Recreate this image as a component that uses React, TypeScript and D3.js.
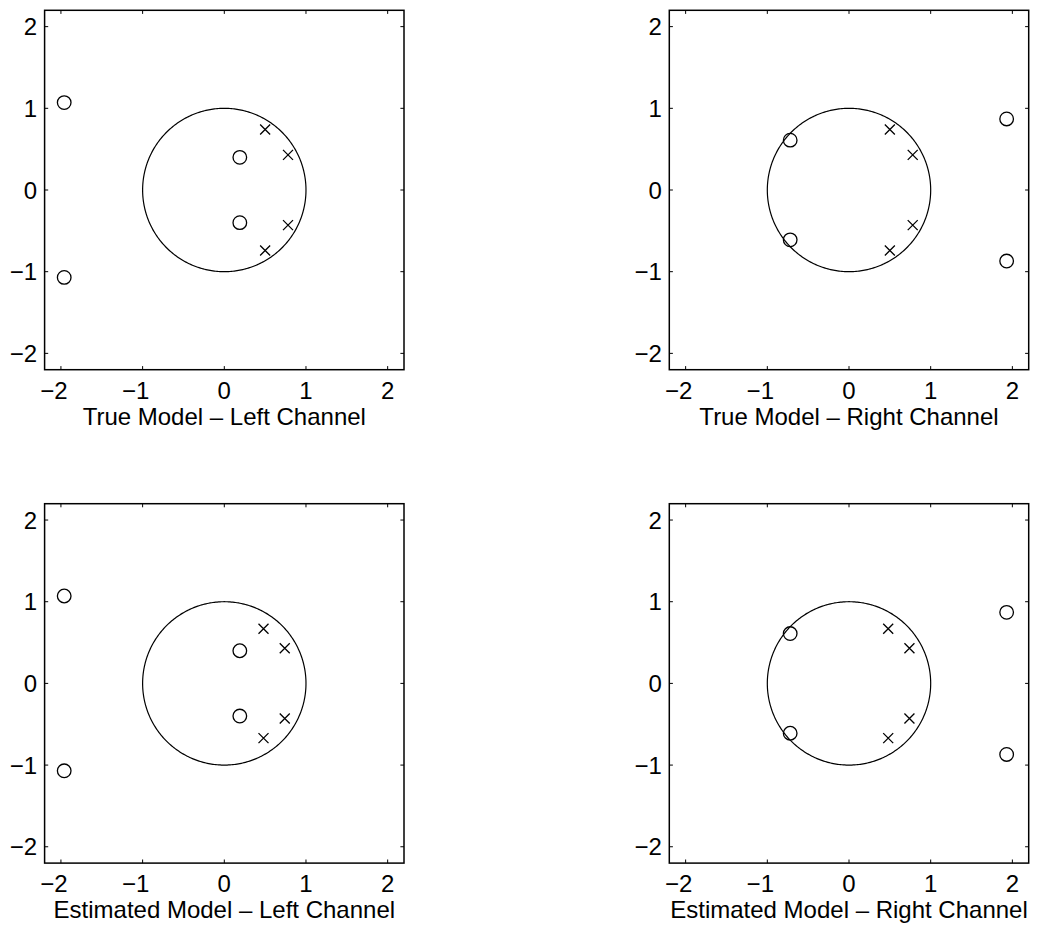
import React from "react";
import * as d3 from "d3";

// Pole/zero locations (real, imaginary) for each channel model
const trueLeftZeros: [number, number][] = [
  [-1.96, 1.07], [-1.96, -1.07], [0.19, 0.4], [0.19, -0.4],
];
const trueLeftPoles: [number, number][] = [
  [0.5, 0.74], [0.5, -0.74], [0.78, 0.43], [0.78, -0.43],
];
const trueRightZeros: [number, number][] = [
  [-0.72, 0.61], [-0.72, -0.61], [1.93, 0.87], [1.93, -0.87],
];
const trueRightPoles: [number, number][] = [
  [0.5, 0.74], [0.5, -0.74], [0.78, 0.43], [0.78, -0.43],
];
const estLeftZeros: [number, number][] = [
  [-1.96, 1.07], [-1.96, -1.07], [0.19, 0.4], [0.19, -0.4],
];
const estLeftPoles: [number, number][] = [
  [0.48, 0.67], [0.48, -0.67], [0.74, 0.43], [0.74, -0.43],
];
const estRightZeros: [number, number][] = [
  [-0.72, 0.61], [-0.72, -0.61], [1.93, 0.87], [1.93, -0.87],
];
const estRightPoles: [number, number][] = [
  [0.48, 0.67], [0.48, -0.67], [0.74, 0.43], [0.74, -0.43],
];

const panelTitles = [
  "True Model – Left Channel",
  "True Model – Right Channel",
  "Estimated Model – Left Channel",
  "Estimated Model – Right Channel",
];

const axisDomain: [number, number] = [-2.2, 2.2];
const tickValues = [-2, -1, 0, 1, 2];

const W = 1040;
const H = 932;
const SIZE = 359.4;
const FONT = "'Liberation Sans', Arial, Helvetica, sans-serif";
const FS = 24;

type Pt = [number, number];

function fmt(v: number) {
  return v < 0 ? "\u2212" + Math.abs(v) : String(v);
}

function Panel({
  x0, y0, zeros, poles, title,
}: { x0: number; y0: number; zeros: Pt[]; poles: Pt[]; title: string }) {
  const sx = d3.scaleLinear().domain(axisDomain).range([x0, x0 + SIZE]);
  const sy = d3.scaleLinear().domain(axisDomain).range([y0 + SIZE, y0]);
  const tickLen = 3.6;

  // unit circle traced through the scales
  const angles = d3.range(0, 361, 1).map((a) => (a * Math.PI) / 180);
  const circlePath = d3
    .line<number>()
    .x((a) => sx(Math.cos(a)))
    .y((a) => sy(Math.sin(a)))(angles) as string;

  const r = 6.8;
  const h = 5;
  const digitHalf = (0.556 * FS) / 2;

  return (
    <g>
      <path d={circlePath} fill="none" stroke="#000" strokeWidth={1.2} />
      {zeros.map((p, i) => (
        <circle key={"z" + i} cx={sx(p[0])} cy={sy(p[1])} r={r} fill="none" stroke="#000" strokeWidth={1.3} />
      ))}
      {poles.map((p, i) => {
        const cx = sx(p[0]);
        const cy = sy(p[1]);
        return (
          <path
            key={"p" + i}
            d={`M${cx - h},${cy - h}L${cx + h},${cy + h}M${cx - h},${cy + h}L${cx + h},${cy - h}`}
            stroke="#000"
            strokeWidth={1.3}
          />
        );
      })}
      {tickValues.map((t) => (
        <g key={"t" + t} stroke="#000" strokeWidth={1}>
          <line x1={sx(t)} x2={sx(t)} y1={y0 + SIZE} y2={y0 + SIZE - tickLen} />
          <line x1={sx(t)} x2={sx(t)} y1={y0} y2={y0 + tickLen} />
          <line x1={x0} x2={x0 + tickLen} y1={sy(t)} y2={sy(t)} />
          <line x1={x0 + SIZE} x2={x0 + SIZE - tickLen} y1={sy(t)} y2={sy(t)} />
        </g>
      ))}
      <rect x={x0} y={y0} width={SIZE} height={SIZE} fill="none" stroke="#000" strokeWidth={1.5} />
      {tickValues.map((t) => (
        <text
          key={"xl" + t}
          x={sx(t) + digitHalf}
          y={y0 + SIZE + 29}
          textAnchor="end"
          fontFamily={FONT}
          fontSize={FS}
          fill="#000"
        >
          {fmt(t)}
        </text>
      ))}
      {tickValues.map((t) => (
        <text
          key={"yl" + t}
          x={x0 - 7.5}
          y={sy(t)}
          dy="0.36em"
          textAnchor="end"
          fontFamily={FONT}
          fontSize={FS}
          fill="#000"
        >
          {fmt(t)}
        </text>
      ))}
      <text
        x={x0 + SIZE / 2}
        y={y0 + SIZE + 55}
        textAnchor="middle"
        fontFamily={FONT}
        fontSize={FS}
        fill="#000"
      >
        {title}
      </text>
    </g>
  );
}

export default function App() {
  const cols = [44.6, 669.3];
  const rows = [10.3, 503.7];
  return (
    <svg
      width={W}
      height={H}
      viewBox={`0 0 ${W} ${H}`}
      style={{ position: "absolute", left: 0, top: 0, background: "#fff", display: "block" }}
    >
      <rect x={0} y={0} width={W} height={H} fill="#fff" />
      <Panel x0={cols[0]} y0={rows[0]} zeros={trueLeftZeros} poles={trueLeftPoles} title={panelTitles[0]} />
      <Panel x0={cols[1]} y0={rows[0]} zeros={trueRightZeros} poles={trueRightPoles} title={panelTitles[1]} />
      <Panel x0={cols[0]} y0={rows[1]} zeros={estLeftZeros} poles={estLeftPoles} title={panelTitles[2]} />
      <Panel x0={cols[1]} y0={rows[1]} zeros={estRightZeros} poles={estRightPoles} title={panelTitles[3]} />
    </svg>
  );
}
